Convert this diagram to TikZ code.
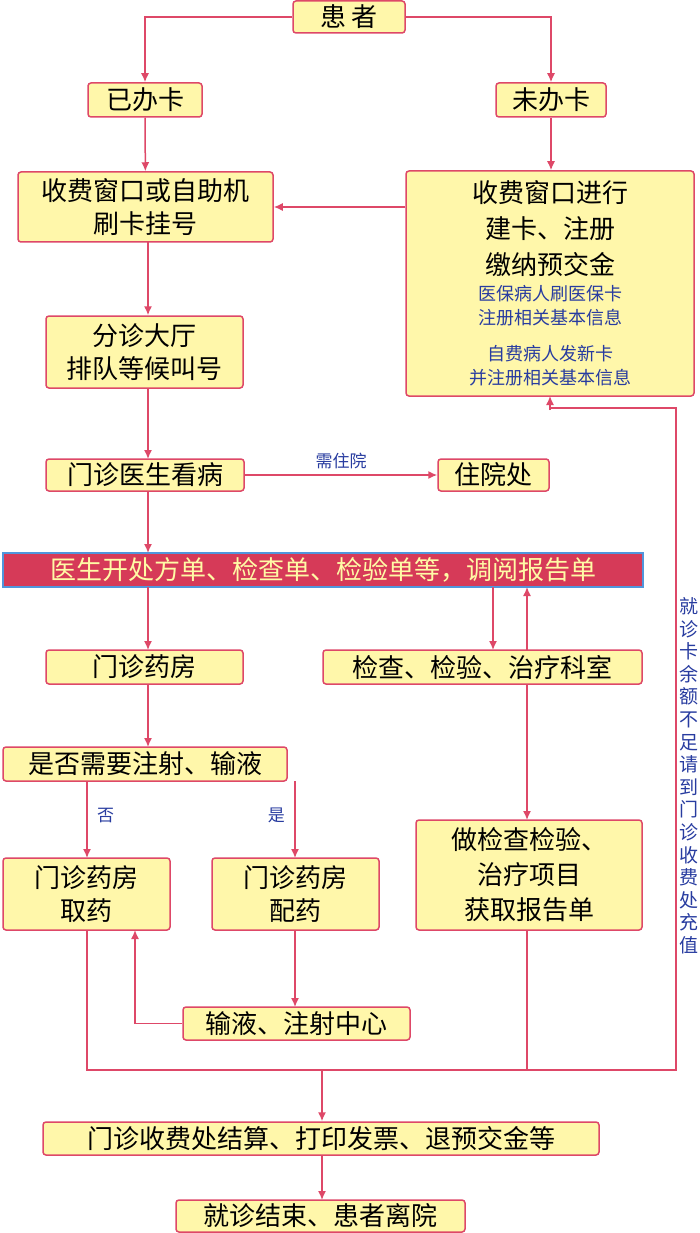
\documentclass[tikz,border=0pt]{standalone}
\usepackage{fontspec}
\newfontfamily\cjk{Noto Sans CJK SC}
\usetikzlibrary{arrows.meta}
\definecolor{ln}{RGB}{222,72,104}
\definecolor{bx}{RGB}{255,247,170}
\definecolor{bl}{RGB}{40,60,160}
\definecolor{rb}{RGB}{214,58,88}
\definecolor{bb}{RGB}{80,150,220}
\tikzset{
 box/.style={draw=ln,line width=1.5pt,fill=bx,rounded corners=3pt,inner sep=0pt,align=center,font=\cjk\fontsize{26}{33}\selectfont},
 arr/.style={draw=ln,line width=1.5pt,-{Latex[length=9pt,width=8pt]}},
 ln/.style={draw=ln,line width=1.5pt},
 lab/.style={text=bl,font=\cjk\fontsize{17}{20}\selectfont}
}
\begin{document}
\begin{tikzpicture}[x=1pt,y=-1pt]
\useasboundingbox[fill=white] (0,0) rectangle (700,1233);
\newcommand\bx[6]{\node[box,minimum width=#4-#2,minimum height=#5-#3] (#1) at ({(#2+#4)/2},{(#3+#5)/2}) {#6};}
\bx{p}{293}{1}{405}{33}{患\ 者}
\bx{y}{88}{83}{202}{117}{已办卡}
\bx{w}{496}{83}{606}{117}{未办卡}
\bx{s}{18}{172}{273}{242}{收费窗口或自助机\\刷卡挂号}
\node[box,minimum width=288,minimum height=225] (r) at (550,283.5) {};
\node[font=\cjk\fontsize{26}{36}\selectfont,align=center] at (550,229) {收费窗口进行\\建卡、注册\\缴纳预交金};
\node[lab,font=\cjk\fontsize{18}{24}\selectfont,align=center] at (550,306) {医保病人刷医保卡\\注册相关基本信息};
\node[lab,font=\cjk\fontsize{18}{24}\selectfont,align=center] at (550,366) {自费病人发新卡\\并注册相关基本信息};
\bx{f}{46}{316}{243}{388}{分诊大厅\\排队等候叫号}
\bx{m}{46}{459}{244}{491}{门诊医生看病}
\bx{z}{438}{459}{549}{491}{住院处}
\node[draw=bb,line width=1.5pt,fill=rb,minimum width=640,minimum height=34,inner sep=0pt,text=yellow!35,font=\cjk\fontsize{26}{30}\selectfont] (b) at (323,570) {医生开处方单、检查单、检验单等，调阅报告单};
\bx{yf}{46}{650}{243}{684}{门诊药房}
\bx{jc}{323}{650}{642}{684}{检查、检验、治疗科室}
\bx{sf}{3}{747}{287}{781}{是否需要注射、输液}
\bx{qy}{3}{858}{170}{930}{门诊药房\\取药}
\bx{py}{212}{858}{379}{930}{门诊药房\\配药}
\node[box,minimum width=226,minimum height=110,font=\cjk\fontsize{26}{35}\selectfont] (zj) at (529,875) {做检查检验、\\治疗项目\\获取报告单};
\bx{sy}{183}{1007}{410}{1040}{输液、注射中心}
\bx{js}{43}{1122}{599}{1155}{门诊收费处结算、打印发票、退预交金等}
\bx{e}{176}{1200}{465}{1232}{就诊结束、患者离院}
\draw[arr] (p.west) -| (y.north);
\draw[arr] (p.east) -| (w.north);
\draw[arr] (y) -- (s);
\draw[arr] (w.south) -- (r.north -| w.south);
\draw[arr] (r.west |- s.east) -- (s.east);
\draw[arr] (148,242) -- (f.north -| 148,0);
\draw[arr] (148,388) -- (148,459);
\draw[arr] (148,491) -- (148,553);
\draw[arr] (m) -- node[lab,above=2pt]{需住院} (z);
\draw[arr] (148,587) -- (148,650);
\draw[arr] (493,587) -- (493,650);
\draw[arr] (527,650) -- (527,587);
\draw[arr] (527,684) -- (527,820);
\draw[arr] (148,684) -- (148,747);
\draw[arr] (87,781) -- node[lab,right=6pt,pos=0.45]{否} (87,858);
\draw[arr] (295,781) -- node[lab,left=6pt,pos=0.45]{是} (295,858);
\draw[arr] (295,930) -- (295,1007);
\draw[arr] (sy.west) -| (135,930);
\coordinate (c) at (322,1070);
\draw[ln] (87,930) |- (676,1070) -- (676,408) -| (550,409);
\draw[ln] (527,930) -- (527,1070);
\draw[arr] (550,410) -- (550,396);
\draw[arr] (c) -- (js.north -| c);
\draw[arr] (322,1155) -- (322,1200);
\node[lab,font=\cjk\fontsize{19}{22.6}\selectfont,align=center,anchor=north] at (689,594) {就\\诊\\卡\\余\\额\\不\\足\\请\\到\\门\\诊\\收\\费\\处\\充\\值};
\end{tikzpicture}
\end{document}
